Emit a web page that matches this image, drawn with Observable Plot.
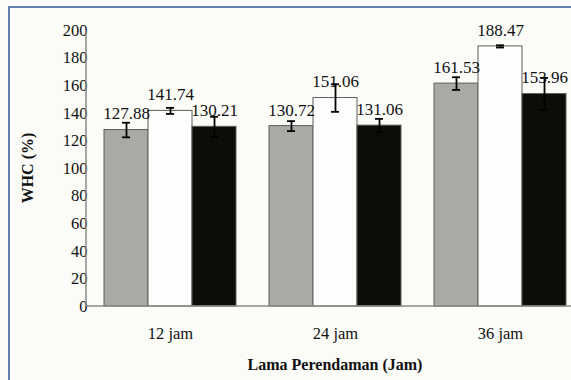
<!DOCTYPE html>
<html>
<head>
<meta charset="utf-8">
<script src="https://cdn.jsdelivr.net/npm/d3@7"></script>
<script src="https://cdn.jsdelivr.net/npm/@observablehq/plot@0.6"></script>
<style>
  html, body { margin: 0; padding: 0; background: #fbfbf8; overflow: hidden; width: 571px; height: 380px; }
  #wrap { position: relative; width: 571px; height: 380px; overflow: hidden; }
  #frame { position: absolute; left: 8px; top: 6px; width: 600px; height: 400px;
           border-top: 2px solid #5f7fae; border-left: 2px solid #5f7fae; pointer-events: none; }
  #chart { position: absolute; left: 0; top: 0; width: 590px; }
  #chart svg { max-width: none !important; }
  #chart svg g, #chart svg text { font-family: 'Liberation Serif', 'Times New Roman', serif !important; }
  #chart svg g[aria-label*="axis"] { font-size: 16.5px; fill: #111; }
</style>
</head>
<body>
<div id="wrap">
  <div id="chart"></div>
  <div id="frame"></div>
</div>
<script>
// Soaking time groups and the three treatments
const groups = ["12 jam", "24 jam", "36 jam"];
const series = ["P1", "P2", "P3"];
const fills = ["#a9aaa5", "#fdfdfb", "#0c0c08"];

// Water holding capacity (%) per group, one value per treatment
const whc12 = [127.88, 141.74, 130.21];
const whc24 = [130.72, 151.06, 131.06];
const whc36 = [161.53, 188.47, 153.96];

// Standard deviation shown as error bars
const sd12 = [5.3, 2.2, 7.3];
const sd24 = [3.6, 10.0, 4.9];
const sd36 = [4.6, 0.8, 11.7];

const yTicks = [0, 20, 40, 60, 80, 100, 120, 140, 160, 180, 200];

const values = [whc12, whc24, whc36];
const errors = [sd12, sd24, sd36];
const rows = groups.flatMap((g, i) =>
  series.map((s, j) => ({group: g, series: s, value: values[i][j], sd: errors[i][j]}))
);

const font = "'Liberation Serif', 'Times New Roman', serif";

const chart = Plot.plot({
  width: 590,
  height: 380,
  marginLeft: 86,
  marginRight: 7,
  marginTop: 30,
  marginBottom: 74,
  style: {fontFamily: font, fontSize: "16px", background: "transparent", color: "#111", maxWidth: "none"},
  fx: {domain: groups, paddingInner: 0.19, paddingOuter: 0.097, label: null,
       axis: "bottom", tickSize: 0, tickPadding: 21},
  x: {domain: series, padding: 0, axis: null},
  y: {domain: [0, 200], ticks: yTicks, tickSize: 0, tickPadding: 16, label: null},
  color: {domain: series, range: fills},
  marks: [
    Plot.barY(rows, {fx: "group", x: "series", y: "value", fill: "series",
                     stroke: "#5e5e5e", strokeWidth: 1}),
    Plot.text(rows, {fx: "group", x: "series", y: "value", text: d => d.value.toFixed(2),
                     dy: -16, fontSize: 17, fontFamily: font, fill: "#111"}),
    Plot.ruleX(rows, {fx: "group", x: "series", y1: d => d.value - d.sd, y2: d => d.value + d.sd,
                      stroke: "#000", strokeWidth: 1.8}),
    Plot.tickY(rows, {fx: "group", x: "series", y: d => d.value - d.sd,
                      insetLeft: 18, insetRight: 18, stroke: "#000", strokeWidth: 1.8}),
    Plot.tickY(rows, {fx: "group", x: "series", y: d => d.value + d.sd,
                      insetLeft: 18, insetRight: 18, stroke: "#000", strokeWidth: 1.8})
  ]
});

document.getElementById("chart").appendChild(chart);

// Axis lines and titles, placed from the chart's own scales
const ys = chart.scale("y");
const fxs = chart.scale("fx");
const yPix = d3.scaleLinear().domain(ys.domain).range(ys.range);
const x0 = fxs.range[0];
const x1 = fxs.range[1];
const svg = d3.select(chart);

svg.append("line")
  .attr("x1", x0).attr("x2", x0)
  .attr("y1", yPix(200)).attr("y2", yPix(0))
  .attr("stroke", "#8a8a8a").attr("stroke-width", 1.5);
svg.append("line")
  .attr("x1", x0).attr("x2", x1)
  .attr("y1", yPix(0)).attr("y2", yPix(0))
  .attr("stroke", "#8a8a8a").attr("stroke-width", 1.5);

svg.append("text")
  .attr("transform", `translate(27,${(yPix(0) + yPix(200)) / 2}) rotate(-90)`)
  .attr("text-anchor", "middle").attr("dy", "0.35em")
  .attr("font-family", font).attr("font-size", 16).attr("font-weight", "bold").attr("fill", "#111")
  .text("WHC (%)");

svg.append("text")
  .attr("x", 335).attr("y", 364)
  .attr("text-anchor", "middle").attr("dy", "0.35em")
  .attr("font-family", font).attr("font-size", 16).attr("font-weight", "bold").attr("fill", "#111")
  .text("Lama Perendaman (Jam)");
</script>
</body>
</html>
